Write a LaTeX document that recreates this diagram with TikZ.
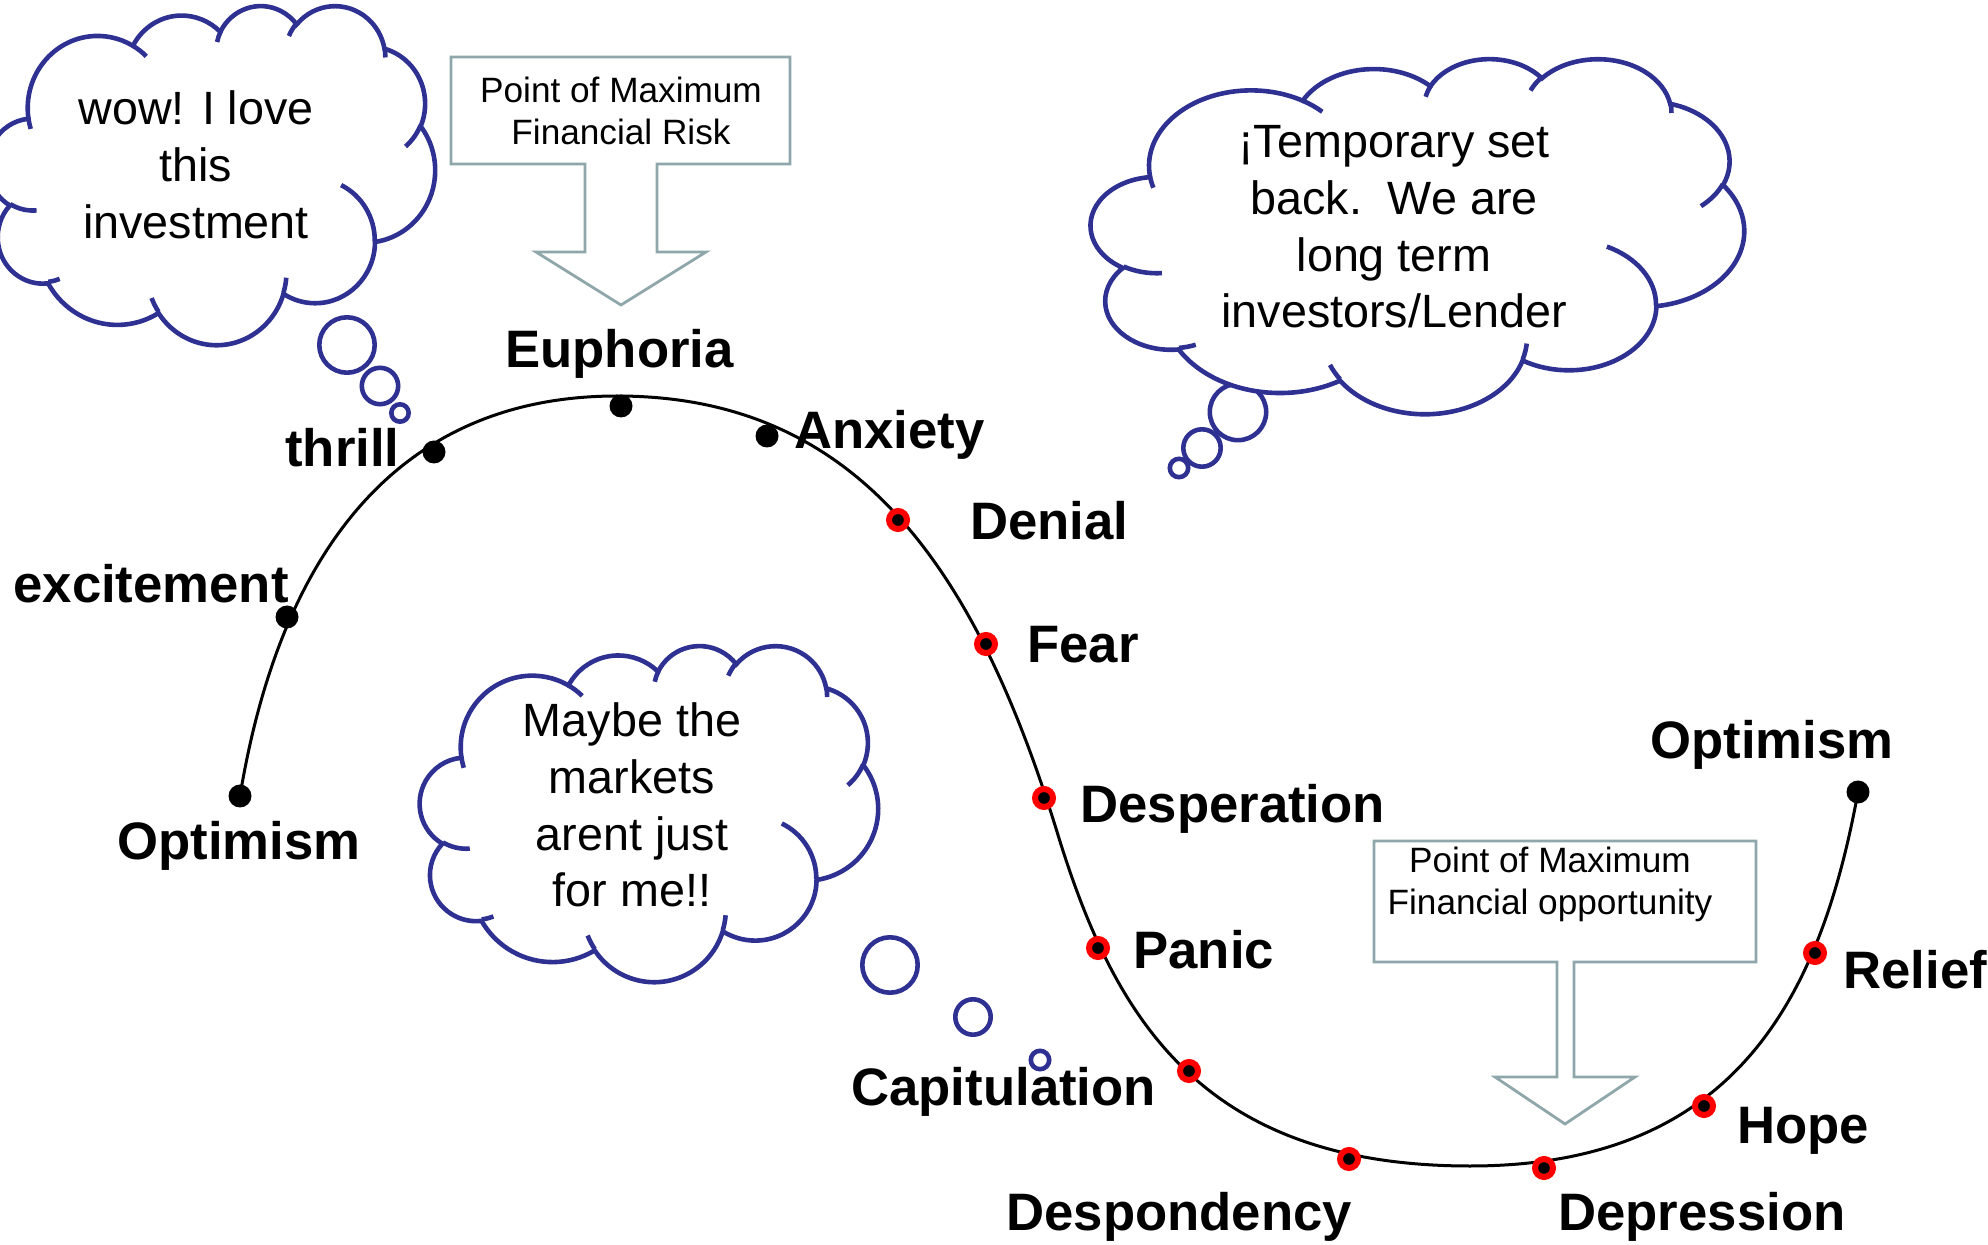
\documentclass[tikz,border=0pt]{standalone}
\usepackage{fontspec}
\setmainfont{Liberation Sans}

\definecolor{azulnube}{RGB}{46,49,146}
\definecolor{grisflecha}{RGB}{143,166,170}

% arco de nube (angulos como en la forma de powerpoint)
\newcommand{\arco}[4]{arc[x radius=#1, y radius=#2,
	start angle={atan2((#1)*sin(#3),(#2)*cos(#3))},
	delta angle={mod(atan2((#1)*sin((#3)+(#4)),(#2)*cos((#3)+(#4)))-atan2((#1)*sin(#3),(#2)*cos(#3))+720,360)}]}

% nube: x0, y0, ancho, alto
\newcommand{\nube}[4]{%
	\begin{scope}[shift={(#1,#2)}, xscale=#3/432, yscale=#4/432]
		\draw[nube, fill=white] (39,143.7) \arco{67.53}{91.90}{-190.4875}{123.7805}
			\arco{53.33}{72.67}{-144.1024}{89.9452}
			\arco{43.65}{59.45}{-145.8079}{99.7230}
			\arco{48.57}{65.95}{-130.9861}{117.2417}
			\arco{53.33}{72.73}{-78.7089}{109.0269}
			\arco{67.75}{92.20}{-46.2673}{130.2690}
			\arco{57.85}{78.67}{0.6250}{114.0333}
			\arco{67.52}{92.15}{22.4516}{115.1726}
			\arco{77.20}{105.43}{66.2426}{75.7110}
			\arco{43.60}{59.18}{-274.9421}{146.7356}
			\arco{43.45}{59.45}{-246.8285}{152.5189} -- cycle;
		\draw[nube] (46.93,261.77) \arco{43.45}{59.45}{86.742}{26.4295}
			(69.28,348.99) \arco{43.60}{59.18}{73.6105}{11.4475}
			(164.78,390.90) \arco{67.52}{92.15}{137.6242}{14.0811}
			(288.27,347.51) \arco{67.52}{92.15}{6.4533}{15.9984}
			(341.29,229.54) \arco{57.85}{78.67}{-70.2924}{70.9174}
			(417.98,153.54) \arco{53.33}{72.73}{30.3180}{27.7515}
			(383.24,54.26) \arco{48.57}{65.95}{-13.7443}{14.8589}
			(290.78,39.52) \arco{48.57}{65.95}{-149.1815}{18.1954}
			(221.41,47.20) \arco{43.65}{59.45}{-163.4943}{17.6864}
			(140.00,51.92) \arco{67.53}{91.90}{-66.7070}{12.3194}
			(41.27,157.89) \arco{67.53}{91.90}{157.6544}{11.8582};
	\end{scope}}

\begin{document}
\begin{tikzpicture}[x=0.5pt, y=-0.5pt]

	\tikzstyle{nube}=[draw=azulnube, line width=2.3pt]
	\tikzstyle{burbuja}=[circle, draw=azulnube, line width=2.3pt, fill=white, inner sep=0pt]
	\tikzstyle{flecha}=[draw=grisflecha, line width=1.4pt, fill=white]
	\tikzstyle{curva}=[line width=1.5pt]
	\tikzstyle{punto}=[circle, fill=black, inner sep=0pt, minimum size=11.5pt]
	\tikzstyle{rojo}=[circle, fill=black, draw=red, line width=3pt, inner sep=0pt, minimum size=9pt]
	\tikzstyle{etiqueta}=[anchor=base west, inner sep=0pt, font=\bfseries\fontsize{26.35}{30}\selectfont]
	\tikzstyle{idea}=[align=center, inner sep=0pt, font=\fontsize{23.35}{28.35}\selectfont]
	\tikzstyle{aviso}=[align=center, inner sep=0pt, font=\fontsize{17.6}{21}\selectfont]

	\useasboundingbox (0,0) rectangle (1988,1245);

	%%%%%%%%%%%%%%%%%%%%%%%%%%%%%%%%%
	%%%%%%% NUBES %%%%%%%%
	\node[burbuja, minimum size=27.7pt] (b_1_1) at (347,345) {}; % NUBE 1
	\node[burbuja, minimum size=18.2pt] (b_1_2) at (380,386) {}; % NUBE 1
	\node[burbuja, minimum size=8.7pt] (b_1_3) at (400,413) {}; % NUBE 1
	\node[burbuja, minimum size=28.2pt] (b_2_1) at (1238,412) {}; % NUBE 2
	\node[burbuja, minimum size=18.7pt] (b_2_2) at (1202,448) {}; % NUBE 2
	\node[burbuja, minimum size=9.2pt] (b_2_3) at (1179,468) {}; % NUBE 2
	\node[burbuja, minimum size=27.7pt] (b_3_1) at (890,965) {}; % NUBE 3
	\node[burbuja, minimum size=17.7pt] (b_3_2) at (973,1017) {}; % NUBE 3
	\node[burbuja, minimum size=9.2pt] (b_3_3) at (1040,1060) {}; % NUBE 3

	\nube{-12}{5}{447}{339}
	\nube{1091}{58}{653}{355}
	\nube{420}{645}{458}{336}

	\node[idea] (n_1) at (196,165) {wow! I love\\this\\investment};
	\node[idea] (n_2) at (1394,227) {¡Temporary set\\back.\ \ We are\\long term\\investors/Lender};
	\node[idea] (n_3) at (632,805) {Maybe the\\markets\\arent just\\for me!!};

	%%%%%%%%%%%%%%%%%%%%%%%%%%%%%%%%%
	%%%%%%% FLECHAS %%%%%%%%
	\draw[flecha] (451,57) -- (790,57) -- (790,164) -- (657,164) -- (657,252) -- (706,252)
		-- (621,305) -- (536,252) -- (585,252) -- (585,164) -- (451,164) -- cycle;
	\node[aviso] (a_1) at (621,111) {Point of Maximum\\Financial Risk};

	\draw[flecha] (1374,841) -- (1756,841) -- (1756,962) -- (1574,962) -- (1574,1077) -- (1635,1077)
		-- (1565,1124) -- (1495,1077) -- (1557,1077) -- (1557,962) -- (1374,962) -- cycle;
	\node[aviso] (a_2) at (1550,884) {Point of Maximum\\Financial opportunity};

	%%%%%%%%%%%%%%%%%%%%%%%%%%%%%%%%%
	%%%%%%% PUNTOS %%%%%%%%
	\coordinate (p_1) at (240,796); % SUBIDA
	\coordinate (p_2) at (287,617); % SUBIDA
	\coordinate (p_3) at (434,452); % SUBIDA
	\coordinate (p_4) at (621,406); % SUBIDA
	\coordinate (p_5) at (767,436); % SUBIDA
	\coordinate (p_6) at (898,520); % CAIDA
	\coordinate (p_7) at (986,644); % CAIDA
	\coordinate (p_8) at (1044,798); % CAIDA
	\coordinate (p_9) at (1098,948); % CAIDA
	\coordinate (p_10) at (1189,1071); % CAIDA
	\coordinate (p_11) at (1349,1159); % CAIDA
	\coordinate (p_12) at (1544,1168); % CAIDA
	\coordinate (p_13) at (1704,1106); % CAIDA
	\coordinate (p_14) at (1815,953); % CAIDA
	\coordinate (p_15) at (1858,792); % SUBIDA

	%%%%%%%%%%%%%%%%%%%%%%%%%%%%%%%%%
	%%%%%%% CURVA %%%%%%%%
	\draw[curva] (p_1) .. controls (276.5,575) and (382,396) .. (617,396)
		.. controls (857,396) and (976,567) .. (1058,835)
		.. controls (1115,1020) and (1203,1166) .. (1470,1166)
		.. controls (1732,1166) and (1819.5,1002.6) .. (p_15);

	\node[etiqueta] (e_1) at (117,859) {Optimism};
	\node[etiqueta] (e_2) at (13,603) {excitement};
	\node[etiqueta] (e_3) at (285,467) {thrill};
	\node[etiqueta] (e_4) at (505,368) {Euphoria};
	\node[etiqueta] (e_5) at (794,449) {Anxiety};
	\node[etiqueta] (e_6) at (970,540) {Denial};
	\node[etiqueta] (e_7) at (1027,663) {Fear};
	\node[etiqueta] (e_8) at (1080,822) {Desperation};
	\node[etiqueta] (e_9) at (1133,968) {Panic};
	\node[etiqueta] (e_10) at (851,1105) {Capitulation};
	\node[etiqueta] (e_11) at (1006,1230) {Despondency};
	\node[etiqueta] (e_12) at (1558,1230) {Depression};
	\node[etiqueta] (e_13) at (1737,1143) {Hope};
	\node[etiqueta] (e_14) at (1843,988) {Relief};
	\node[etiqueta] (e_15) at (1650,759) {Optimism};

	\node[punto] (p_1) at (p_1) {};
	\node[punto] (p_2) at (p_2) {};
	\node[punto] (p_3) at (p_3) {};
	\node[punto] (p_4) at (p_4) {};
	\node[punto] (p_5) at (p_5) {};
	\node[rojo] (p_6) at (p_6) {};
	\node[rojo] (p_7) at (p_7) {};
	\node[rojo] (p_8) at (p_8) {};
	\node[rojo] (p_9) at (p_9) {};
	\node[rojo] (p_10) at (p_10) {};
	\node[rojo] (p_11) at (p_11) {};
	\node[rojo] (p_12) at (p_12) {};
	\node[rojo] (p_13) at (p_13) {};
	\node[rojo] (p_14) at (p_14) {};
	\node[punto] (p_15) at (p_15) {};
	%%%%%%%%%%%%%%%%%%%%%%%%%%%%%%%%%
\end{tikzpicture}
\end{document}
